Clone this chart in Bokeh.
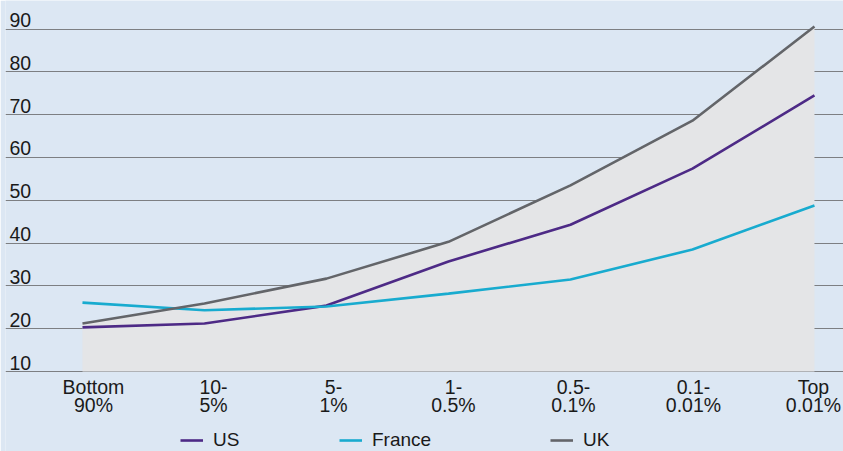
from bokeh.plotting import figure
from bokeh.models import Range1d, FixedTicker, Legend, LegendItem, ColumnDataSource
from bokeh.core.properties import value
from bokeh.embed import file_html
from bokeh.resources import INLINE

# ---- data ----
categories = ["Bottom\n90%", "10-\n5%", "5-\n1%", "1-\n0.5%", "0.5-\n0.1%", "0.1-\n0.01%", "Top\n0.01%"]
us = [20.3, 21.2, 25.4, 35.7, 44.3, 57.4, 74.5]
france = [26.1, 24.3, 25.2, 28.2, 31.5, 38.5, 48.8]
uk = [21.2, 25.9, 31.7, 40.3, 53.5, 68.6, 90.6]
y_ticks = [10, 20, 30, 40, 50, 60, 70, 80, 90]
y_tick_labels = [str(t) for t in y_ticks]

BG = "#dce7f3"
FILL = "#e4e5e7"
C_US = "#4d2a86"
C_FR = "#18abcf"
C_UK = "#636569"
GRID = "#7d7f82"
TXT = "#1a1a1a"
FONT = "Liberation Sans"
FS = "19.5px"

idx = list(range(len(categories)))
src = ColumnDataSource(dict(x=idx, us=us, fr=france, uk=uk, base=[y_ticks[0]] * len(idx)))

x_start, x_end = -0.631, 6.238
p = figure(width=843, height=451, x_range=Range1d(x_start, x_end), y_range=Range1d(-8.69, 96.68),
           output_backend="svg", toolbar_location=None,
           x_axis_location=None, y_axis_location=None,
           min_border_left=5, min_border_right=0, min_border_top=0, min_border_bottom=0,
           background_fill_color=BG, border_fill_color=BG, outline_line_color=None)

p.xgrid.visible = False
p.ygrid.ticker = FixedTicker(ticks=y_ticks)
p.ygrid.grid_line_color = GRID
p.ygrid.grid_line_width = 1.2

# shaded area under UK
p.varea(x="x", y1="base", y2="uk", source=src, fill_color=FILL)

# y tick labels sitting above their grid lines
p.text(x=[x_start] * len(y_ticks), y=y_ticks, text=y_tick_labels, x_offset=4, y_offset=-9,
       text_baseline="alphabetic", text_align="left", text_font=value(FONT),
       text_font_size=FS, text_color=TXT)

r_us = p.line("x", "us", source=src, line_color=C_US, line_width=2.6)
r_fr = p.line("x", "fr", source=src, line_color=C_FR, line_width=2.6)
r_uk = p.line("x", "uk", source=src, line_color=C_UK, line_width=2.6)

# category labels below the base line, on a range aligned with label centres
p.extra_x_ranges = {"lab": Range1d(-0.733, 6.25)}
p.text(x=idx, y=[y_ticks[0]] * len(idx), text=categories, x_range_name="lab",
       y_offset=4, text_baseline="top", text_align="center", text_line_height=0.82,
       text_font=value(FONT), text_font_size=FS, text_color=TXT)

# legends
for r, name, lx in [(r_us, "US", 175), (r_fr, "France", 334), (r_uk, "UK", 545)]:
    lg = Legend(items=[LegendItem(label=name, renderers=[r])], location=(lx, 0),
                background_fill_alpha=0, border_line_color=None, padding=0, margin=0,
                glyph_width=23, glyph_height=18, label_standoff=10,
                label_text_font=FONT, label_text_font_size="19px", label_text_color=TXT)
    p.add_layout(lg, "center")

open("out.html", "w").write(file_html(p, INLINE))
